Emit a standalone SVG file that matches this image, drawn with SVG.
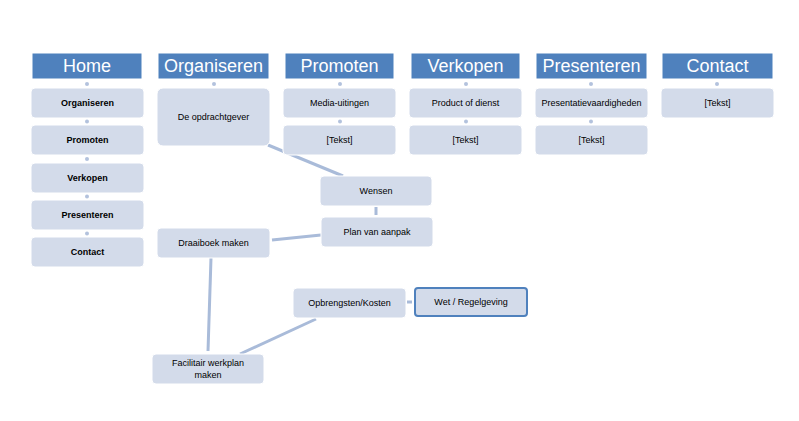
<svg xmlns="http://www.w3.org/2000/svg" width="799" height="421" viewBox="0 0 799 421">
<style>
.hdr{fill:#4F81BD;stroke:#4F81BD;stroke-width:1}
.ht{fill:#fff;font-family:"Liberation Sans",Arial,sans-serif;font-size:18px;text-anchor:middle}
.box{fill:#D3DBEA;stroke:#fff;stroke-width:1}
.bt{fill:#000;font-family:"Liberation Sans",Arial,sans-serif;font-size:9px;text-anchor:middle}
.bb{font-weight:bold}
.dot{fill:#B3C2DD}
.ln{stroke:#A9BBD9;stroke-width:3;fill:none}
.wet{fill:#D3DBEA;stroke:#4F81BD;stroke-width:2}
</style>
<rect width="799" height="421" fill="#fff"/>
<g id="connectors">
<circle class="dot" cx="87" cy="84" r="2"/>
<circle class="dot" cx="87" cy="121.5" r="2"/>
<circle class="dot" cx="87" cy="159" r="2"/>
<circle class="dot" cx="87" cy="196.5" r="2"/>
<circle class="dot" cx="87" cy="233.5" r="2"/>
<circle class="dot" cx="214" cy="84" r="2"/>
<circle class="dot" cx="340" cy="84" r="2"/>
<circle class="dot" cx="340" cy="121.5" r="2"/>
<circle class="dot" cx="466" cy="84" r="2"/>
<circle class="dot" cx="466" cy="121.5" r="2"/>
<circle class="dot" cx="591" cy="84" r="2"/>
<circle class="dot" cx="591" cy="121.5" r="2"/>
<circle class="dot" cx="717" cy="84" r="2"/>
<line class="ln" x1="268" y1="145" x2="343" y2="176"/>
<line class="ln" x1="376" y1="207" x2="376" y2="215" stroke-width="2.5"/>
<line class="ln" x1="321" y1="235" x2="272" y2="240"/>
<line class="ln" x1="211" y1="258" x2="208" y2="351"/>
<line class="ln" x1="316" y1="319" x2="240" y2="354"/>
<line class="ln" x1="407" y1="302" x2="412" y2="302" stroke-width="2"/>
</g>
<g id="home"><rect class="hdr" x="33" y="54" width="108" height="24"/><text class="ht" x="87" y="72">Home</text></g>
<g id="organiseren"><rect class="hdr" x="159" y="54" width="109" height="24"/><text class="ht" x="213.5" y="72">Organiseren</text></g>
<g id="promoten"><rect class="hdr" x="286" y="54" width="107" height="24"/><text class="ht" x="339.5" y="72">Promoten</text></g>
<g id="verkopen"><rect class="hdr" x="412" y="54" width="107" height="24"/><text class="ht" x="465.5" y="72">Verkopen</text></g>
<g id="presenteren"><rect class="hdr" x="537" y="54" width="109" height="24"/><text class="ht" x="591.5" y="72">Presenteren</text></g>
<g id="contact"><rect class="hdr" x="663" y="54" width="109" height="24"/><text class="ht" x="717.5" y="72">Contact</text></g>

<g id="home-organiseren"><rect class="box" x="31" y="88" width="113" height="30" rx="4"/><text class="bt bb" x="87.5" y="106">Organiseren</text></g>
<g id="home-promoten"><rect class="box" x="31" y="125" width="113" height="30" rx="4"/><text class="bt bb" x="87.5" y="143">Promoten</text></g>
<g id="home-verkopen"><rect class="box" x="31" y="163" width="113" height="30" rx="4"/><text class="bt bb" x="87.5" y="181">Verkopen</text></g>
<g id="home-presenteren"><rect class="box" x="31" y="200" width="113" height="30" rx="4"/><text class="bt bb" x="87.5" y="218">Presenteren</text></g>
<g id="home-contact"><rect class="box" x="31" y="237" width="113" height="30" rx="4"/><text class="bt bb" x="87.5" y="255">Contact</text></g>

<g id="opdrachtgever"><rect class="box" x="157" y="88" width="113" height="58" rx="6"/><text class="bt" x="213.5" y="120">De opdrachtgever</text></g>
<g id="media"><rect class="box" x="283" y="88" width="113" height="30" rx="4"/><text class="bt" x="339.5" y="106">Media-uitingen</text></g>
<g id="promoten-tekst"><rect class="box" x="283" y="125" width="113" height="30" rx="4"/><text class="bt" x="339.5" y="143">[Tekst]</text></g>
<g id="product"><rect class="box" x="409" y="88" width="113" height="30" rx="4"/><text class="bt" x="465.5" y="106">Product of dienst</text></g>
<g id="verkopen-tekst"><rect class="box" x="409" y="125" width="113" height="30" rx="4"/><text class="bt" x="465.5" y="143">[Tekst]</text></g>
<g id="presentatie"><rect class="box" x="535" y="88" width="113" height="30" rx="4"/><text class="bt" x="591.5" y="106">Presentatievaardigheden</text></g>
<g id="presenteren-tekst"><rect class="box" x="535" y="125" width="113" height="30" rx="4"/><text class="bt" x="591.5" y="143">[Tekst]</text></g>
<g id="contact-tekst"><rect class="box" x="661" y="88" width="113" height="30" rx="4"/><text class="bt" x="717.5" y="106">[Tekst]</text></g>

<g id="wensen"><rect class="box" x="320" y="176" width="112" height="30" rx="4"/><text class="bt" x="376" y="194">Wensen</text></g>
<g id="plan"><rect class="box" x="321" y="217" width="112" height="30" rx="4"/><text class="bt" x="377" y="235">Plan van aanpak</text></g>
<g id="draaiboek"><rect class="box" x="157" y="228" width="113" height="30" rx="4"/><text class="bt" x="213.5" y="246">Draaiboek maken</text></g>
<g id="opbrengsten"><rect class="box" x="293" y="288" width="113" height="30" rx="4"/><text class="bt" x="349.5" y="306">Opbrengsten/Kosten</text></g>
<g id="wet"><rect class="wet" x="415" y="288" width="112" height="28" rx="3"/><text class="bt" x="471" y="305">Wet / Regelgeving</text></g>
<g id="facilitair"><rect class="box" x="152" y="354" width="112" height="30" rx="4"/><text class="bt" x="208" y="366">Facilitair werkplan</text><text class="bt" x="208" y="378">maken</text></g>
</svg>
